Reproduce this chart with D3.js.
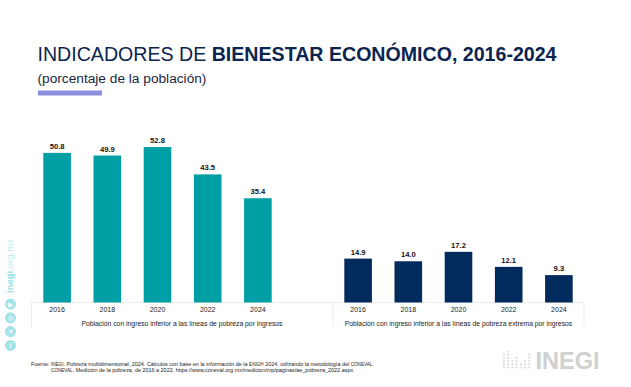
<!DOCTYPE html>
<html>
<head>
<meta charset="utf-8">
<script src="https://cdn.jsdelivr.net/npm/d3@7"></script>
<style>
    html, body { margin: 0; padding: 0; background: #fff; }
    svg { display: block; }
    text { font-family: "Liberation Sans", Arial, sans-serif; }
</style>
</head>
<body>
<div id="chart"></div>
<script>
const years = ["2016", "2018", "2020", "2022", "2024"];
const pobreza = [50.8, 49.9, 52.8, 43.5, 35.4];
const pobrezaExtrema = [14.9, 14.0, 17.2, 12.1, 9.3];
const panelLabels = [
    "Población con ingreso inferior a las líneas de pobreza por ingresos",
    "Población con ingreso inferior a las líneas de pobreza extrema por ingresos",
];
const socialIcons = ["▶", "◎", "✕", "f"];
// dots per column in the logo mark
const logoColumns = [5, 6, 3, 4, 2, 3, 5];

const width = 631;
const height = 387;
const baseline = 302.5;
const axisBottom = 327;

const svg = d3.select("#chart")
    .append("svg")
    .attr("viewBox", [0, 0, width, height])
    .attr("width", width)
    .attr("height", height);

// title block
const title = svg.append("text")
    .attr("x", 37.5)
    .attr("y", 61)
    .attr("font-size", 19.6)
    .attr("fill", "#0B2450");
title.append("tspan").text("INDICADORES DE ");
title.append("tspan").attr("font-weight", "bold").text("BIENESTAR ECONÓMICO, 2016-2024");

svg.append("text")
    .attr("x", 37.5)
    .attr("y", 83)
    .attr("font-size", 13.7)
    .attr("fill", "#1a2740")
    .text("(porcentaje de la población)");

svg.append("rect")
    .attr("x", 38)
    .attr("y", 90.5)
    .attr("width", 64)
    .attr("height", 5)
    .attr("fill", "#8B8FDF");

const yScale = d3.scaleLinear()
    .domain([0, 52.8])
    .range([baseline, 147]);

// axis line and separators run under both panels
svg.append("line")
    .attr("x1", 31.5)
    .attr("x2", 584)
    .attr("y1", baseline)
    .attr("y2", baseline)
    .attr("stroke", "#d9d9d9")
    .attr("stroke-dasharray", "1 1");

svg.selectAll(".separator")
    .data([31.5, 333, 584])
    .join("line")
        .attr("class", "separator")
        .attr("x1", (d) => d)
        .attr("x2", (d) => d)
        .attr("y1", baseline)
        .attr("y2", axisBottom)
        .attr("stroke", "#e6e6e6")
        .attr("stroke-width", 0.8);

function drawPanel(values, x0, x1, labelX, color, label) {
    const xScale = d3.scaleBand()
        .domain(years)
        .range([x0, x1])
        .paddingInner(0.45)
        .paddingOuter(0.225);

    const panel = svg.append("g");

    panel.selectAll(".bar")
        .data(values)
        .join("rect")
            .attr("class", "bar")
            .attr("x", (d, i) => xScale(years[i]))
            .attr("y", (d) => yScale(d))
            .attr("width", xScale.bandwidth())
            .attr("height", (d) => baseline - yScale(d))
            .attr("fill", color);

    panel.selectAll(".value")
        .data(values)
        .join("text")
            .attr("class", "value")
            .attr("x", (d, i) => xScale(years[i]) + xScale.bandwidth() / 2)
            .attr("y", (d) => yScale(d) - 4)
            .attr("text-anchor", "middle")
            .attr("font-size", 7.6)
            .attr("font-weight", "bold")
            .attr("fill", "#111")
            .text((d) => d.toFixed(1));

    const axis = panel.append("g")
        .attr("transform", `translate(0,${baseline})`)
        .call(d3.axisBottom(xScale).tickSize(0).tickPadding(5));
    axis.select(".domain").remove();
    axis.selectAll("text")
        .attr("font-family", "Liberation Sans, Arial, sans-serif")
        .attr("font-size", 7)
        .attr("fill", "#222");

    panel.append("text")
        .attr("x", labelX)
        .attr("y", 325.5)
        .attr("text-anchor", "middle")
        .attr("font-size", 6.8)
        .attr("fill", "#222")
        .text(label);
}

drawPanel(pobreza, 32, 283, 182, "#009EA5", panelLabels[0]);
drawPanel(pobrezaExtrema, 333, 584, 458.5, "#002B5C", panelLabels[1]);

// side strip with site address and social icons
svg.append("text")
    .attr("transform", "translate(12.5,293) rotate(-90)")
    .attr("font-size", 9.5)
    .attr("fill", "#BCEAEE")
    .html('<tspan font-weight="bold" fill="#93DEE3">inegi</tspan>.org.mx');

svg.selectAll(".social")
    .data(socialIcons)
    .join("circle")
        .attr("class", "social")
        .attr("cx", 10.5)
        .attr("cy", (d, i) => 304 + i * 13.8)
        .attr("r", 5.5)
        .attr("fill", "#A3E2E6");

svg.selectAll(".socialGlyph")
    .data(socialIcons)
    .join("text")
        .attr("class", "socialGlyph")
        .attr("x", 10.5)
        .attr("y", (d, i) => 306.5 + i * 13.8)
        .attr("text-anchor", "middle")
        .attr("font-size", 7)
        .attr("fill", "#fff")
        .text((d) => d);

// source note
const small = (s) => `<tspan font-size="4.6">${s}</tspan>`;
svg.append("text")
    .attr("x", 31)
    .attr("y", 365.5)
    .attr("font-size", 5.45)
    .attr("fill", "#222")
    .html(`Fuente: ${small("INEGI")}. Pobreza multidimensional, 2024. Cálculos con base en la información de la ${small("ENIGH")} 2024, utilizando la metodología del ${small("CONEVAL")}.`);
svg.append("text")
    .attr("x", 51)
    .attr("y", 372)
    .attr("font-size", 5.45)
    .attr("fill", "#222")
    .html(`${small("CONEVAL")}. Medición de la pobreza, de 2016 a 2022. https://www.coneval.org.mx/medicion/mp/paginas/ae_pobreza_2022.aspx`);

// logo
const logoDots = logoColumns.flatMap((n, col) => d3.range(n).map((row) => ({ col, row })));
svg.selectAll(".logoDot")
    .data(logoDots)
    .join("circle")
        .attr("class", "logoDot")
        .attr("cx", (d) => 504 + d.col * 4.2)
        .attr("cy", (d) => 367.5 - d.row * 3.2)
        .attr("r", 1.1)
        .attr("fill", "#dcdcdc");

svg.append("text")
    .attr("x", 535.5)
    .attr("y", 368.5)
    .attr("font-size", 23.5)
    .attr("font-weight", "bold")
    .attr("fill", "#d0d0d0")
    .text("INEGI");
</script>
</body>
</html>
